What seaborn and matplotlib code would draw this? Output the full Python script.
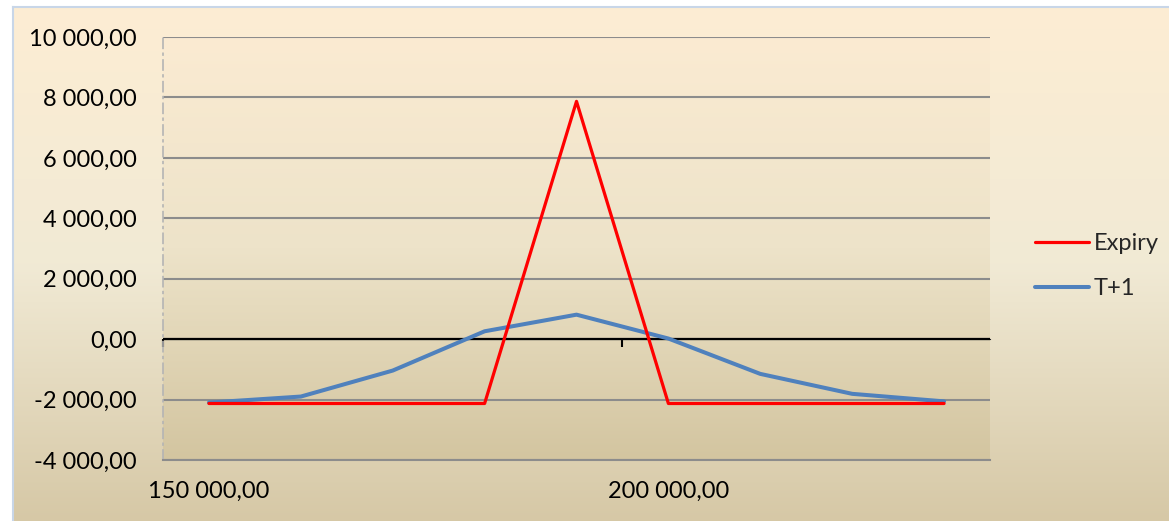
import numpy as np
import pandas as pd
import matplotlib
matplotlib.use("Agg")
import matplotlib.pyplot as plt
import seaborn as sns
from matplotlib.colors import LinearSegmentedColormap
from matplotlib.ticker import FuncFormatter

# --- data ---
strikes = [150000, 160000, 170000, 180000, 190000, 200000, 210000, 220000, 230000]
expiry = [-2130, -2130, -2130, -2130, 7870, -2130, -2130, -2130, -2130]
t_plus_1 = [-2100, -1900, -1040, 260, 810, 20, -1150, -1810, -2060]

y_ticks = [-4000, -2000, 0, 2000, 4000, 6000, 8000, 10000]
x_labels_at = [150000, 200000]
x_marks_at = [145000, 195000]
x_range = (145000, 235000)
y_range = (-4000, 10000)

df_exp = pd.DataFrame({"strike": strikes, "pnl": expiry})
df_t1 = pd.DataFrame({"strike": strikes, "pnl": t_plus_1})

sns.set_style("white")
plt.rcParams["font.family"] = ["Lato", "DejaVu Sans"]


def fmt(v):
    return f"{v:,.2f}".replace(",", " ").replace(".", ",")


W, H = 1169, 521
fig = plt.figure(figsize=(W / 100, H / 100), dpi=100)
fig.patch.set_facecolor("white")

# --- background of the chart area (gradient like the Excel theme) ---
bg_cmap = LinearSegmentedColormap.from_list("bg", ["#FDEDD3", "#F1EAD5", "#D6C8A6"])
grad = np.linspace(0, 1, 256).reshape(-1, 1)

bg = fig.add_axes([13 / W, 0, 1 - 13 / W, 1 - 7 / H], zorder=-10)
bg.imshow(grad, cmap=bg_cmap, aspect="auto", extent=[0, 1, 0, 1], origin="upper")
bg.set_xlim(0, 1)
bg.set_ylim(0, 1)
bg.set_xticks([])
bg.set_yticks([])
for s in ["right", "bottom"]:
    bg.spines[s].set_visible(False)
for s in ["left", "top"]:
    bg.spines[s].set_color("#C8D6E8")
    bg.spines[s].set_linewidth(1.5)

# --- plot area ---
ax = fig.add_axes([163 / W, 1 - 460 / H, (990 - 163) / W, (460 - 37) / H])
ax.patch.set_alpha(0)
pa_cmap = LinearSegmentedColormap.from_list("pa", ["#FBEBD2", "#EDE3C9", "#D3C5A0"])
ax.imshow(grad, cmap=pa_cmap, aspect="auto", extent=[0, 1, 0, 1],
          transform=ax.transAxes, origin="upper", zorder=0)

sns.lineplot(data=df_t1, x="strike", y="pnl", color="#4F81BD", linewidth=2.9,
             label="T+1", ax=ax, zorder=3)
sns.lineplot(data=df_exp, x="strike", y="pnl", color="#FF0000", linewidth=2.3,
             label="Expiry", ax=ax, zorder=4)

ax.set_xlim(*x_range)
ax.set_ylim(*y_range)
ax.set_xlabel("")
ax.set_ylabel("")

ax.set_yticks(y_ticks)
ax.yaxis.set_major_formatter(FuncFormatter(lambda v, p: fmt(v)))
ax.set_xticks(x_labels_at)
ax.set_xticklabels([fmt(v) for v in x_labels_at])

ax.grid(axis="y", color="#8C8C8C", linewidth=1.5, zorder=1)
ax.grid(axis="x", visible=False)
ax.set_axisbelow(True)

ax.tick_params(axis="y", direction="out", length=6, width=1.5, color="#8C8C8C",
               pad=13, labelsize=17, labelcolor="black")
ax.tick_params(axis="x", length=0, pad=15, labelsize=17, labelcolor="black")

for s in ["top", "right"]:
    ax.spines[s].set_visible(False)
ax.spines["bottom"].set_color("#8C8C8C")
ax.spines["bottom"].set_linewidth(1.5)
ax.spines["left"].set_color("#B4B4B4")
ax.spines["left"].set_linewidth(1.2)
ax.spines["left"].set_linestyle((0, (6, 3, 1, 3)))

# horizontal axis crossing at zero
ax.axhline(0, color="black", linewidth=1.6, zorder=2)
zero_loc = (0 - y_range[0]) / (y_range[1] - y_range[0])
sec = ax.secondary_xaxis(zero_loc)
sec.set_xticks(x_marks_at)
sec.set_xticklabels(["", ""])
sec.tick_params(direction="out", length=6, width=1.5, color="black")

# legend in the right margin
handles, labels = ax.get_legend_handles_labels()
order = [labels.index("Expiry"), labels.index("T+1")]
ax.legend([handles[i] for i in order], [labels[i] for i in order],
          loc="center left", bbox_to_anchor=(1035 / W, 1 - 266 / H),
          bbox_transform=fig.transFigure, frameon=False, fontsize=17,
          handlelength=2.3, handletextpad=0.2, labelspacing=1.0,
          borderpad=0, borderaxespad=0)

fig.savefig("out.png", dpi=100)
